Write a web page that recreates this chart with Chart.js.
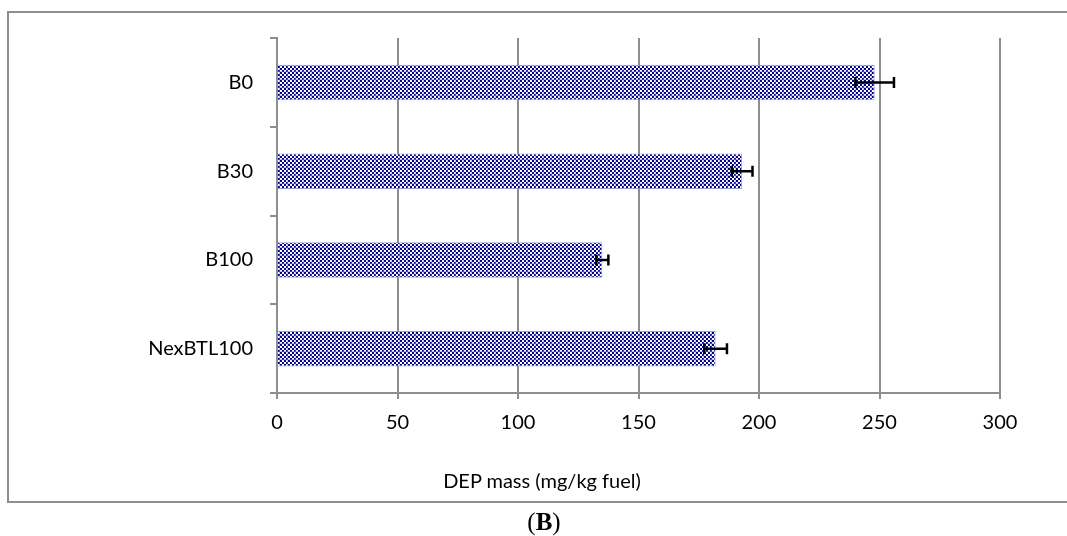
<!DOCTYPE html>
<html>
<head>
<meta charset="utf-8">
<script src="https://cdn.jsdelivr.net/npm/chart.js@4"></script>
<style>
    html, body { margin: 0; padding: 0; background: #fff; overflow: hidden; }
    #frame {
        position: absolute; left: 7px; top: 11px; width: 1100px; height: 488px;
        border: 2px solid #8e8e8e;
    }
    #chart { position: absolute; left: 0; top: 0; }
    .label { position: absolute; font-family: Lato, sans-serif; color: #000; line-height: 1; }
    #xtitle { left: 0; width: 1084px; top: 470px; text-align: center; font-size: 20px; }
    #caption { left: 0; width: 1088px; top: 509px; text-align: center; font-family: "Liberation Serif", serif; font-size: 25px; }
</style>
</head>
<body>
<div id="frame"></div>
<canvas id="chart" width="1067" height="536"></canvas>
<div id="xtitle" class="label">DEP mass (mg/kg fuel)</div>
<div id="caption" class="label">(<b>B</b>)</div>
<script>
const fuels = ['B0', 'B30', 'B100', 'NexBTL100'];
const depMass = [248, 193, 135, 182];
const depError = [8, 4.3, 2.5, 4.7];
const xTicks = [0, 50, 100, 150, 200, 250, 300];

const gridGray = '#8e8e8e';

// navy/white checkerboard fill with faint lavender stripes
function makePattern() {
    const c = document.createElement('canvas');
    c.width = 8; c.height = 8;
    const g = c.getContext('2d');
    g.fillStyle = '#ffffff';
    g.fillRect(0, 0, 8, 8);
    g.fillStyle = '#000088';
    for (let y = 0; y < 8; y += 2) {
        for (let x = 0; x < 8; x += 2) {
            if (((x + y) / 2) % 2 === 0) g.fillRect(x, y, 2, 2);
        }
    }
    g.fillStyle = 'rgba(110, 110, 200, 0.45)';
    g.fillRect(7, 0, 1, 8);
    g.fillRect(0, 7, 8, 1);
    return g.createPattern(c, 'repeat');
}

const errorBars = {
    id: 'errorBars',
    afterDatasetsDraw(chart) {
        const ctx = chart.ctx;
        const xs = chart.scales.x;
        const meta = chart.getDatasetMeta(0);
        ctx.save();
        ctx.strokeStyle = '#000';
        ctx.lineWidth = 2.5;
        meta.data.forEach((bar, i) => {
            const lo = xs.getPixelForValue(depMass[i] - depError[i]);
            const hi = xs.getPixelForValue(depMass[i] + depError[i]);
            const y = bar.y;
            ctx.beginPath();
            ctx.moveTo(lo, y); ctx.lineTo(hi, y);
            ctx.moveTo(lo, y - 5.5); ctx.lineTo(lo, y + 5.5);
            ctx.moveTo(hi, y - 5.5); ctx.lineTo(hi, y + 5.5);
            ctx.stroke();
        });
        ctx.restore();
    }
};

new Chart(document.getElementById('chart'), {
    type: 'bar',
    data: {
        labels: fuels,
        datasets: [{
            data: depMass,
            backgroundColor: makePattern(),
            borderColor: 'rgba(130, 130, 210, 0.8)',
            borderWidth: 1,
            categoryPercentage: 1,
            barPercentage: 0.4
        }]
    },
    options: {
        indexAxis: 'y',
        responsive: false,
        animation: false,
        layout: { padding: { left: 0, top: 38, right: 67, bottom: 0 } },
        plugins: { legend: { display: false }, tooltip: { enabled: false } },
        scales: {
            x: {
                min: 0,
                max: 300,
                afterBuildTicks: s => { s.ticks = xTicks.map(v => ({ value: v })); },
                afterFit: s => { s.height = 536 - 38 - 355; },
                grid: { color: gridGray, lineWidth: 2, tickLength: 6 },
                border: { color: gridGray, width: 2 },
                ticks: { color: '#000', padding: 12, font: { family: 'Lato', size: 20 } }
            },
            y: {
                afterFit: s => { s.width = 277; },
                grid: { offset: true, drawOnChartArea: false, color: gridGray, lineWidth: 2, tickLength: 7 },
                border: { color: gridGray, width: 2 },
                ticks: { color: '#000', padding: 17, font: { family: 'Lato', size: 20 } }
            }
        }
    },
    plugins: [errorBars]
});
</script>
</body>
</html>
